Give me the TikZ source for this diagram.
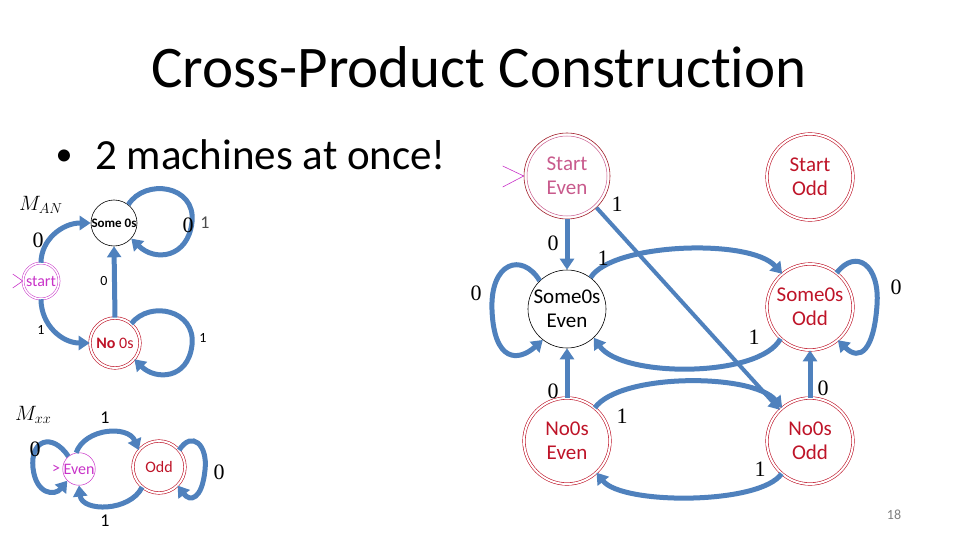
\documentclass[tikz,border=0pt]{standalone}
\usepackage{fontspec}
\setmainfont{Carlito}[Ligatures=NoCommon]
\newfontfamily\serifnum{Liberation Serif}
\usetikzlibrary{arrows.meta}
\definecolor{arrowblue}{RGB}{79,129,189}
\definecolor{statered}{RGB}{190,20,40}
\definecolor{darkred}{RGB}{160,28,40}
\definecolor{startpink}{RGB}{200,90,140}
\definecolor{startmag}{RGB}{200,50,200}
\definecolor{pagegray}{RGB}{128,128,128}
\begin{document}
\begin{tikzpicture}[x=1pt,y=-1pt,
  edge/.style={draw=arrowblue,line width=5pt,-{Triangle[length=11pt,width=14pt]}},
  thinedge/.style={draw=arrowblue,line width=4pt,-{Triangle[length=11pt,width=13pt]}},
  dstate/.style={circle,draw=statered,double=white,double distance=2pt,line width=0.6pt,inner sep=0pt,text=statered,align=center},
  sstate/.style={circle,draw=black,line width=0.6pt,inner sep=0pt,align=center},
  rtext/.style={font=\fontsize{21}{24}\selectfont},
  ltext/.style={font=\fontsize{16}{18}\selectfont},
  lblR/.style={font=\serifnum\fontsize{22}{22}\selectfont,inner sep=0pt},
  lblS/.style={font=\fontsize{14}{14}\selectfont,inner sep=0pt},
  lblM/.style={font=\fontsize{18}{18}\selectfont,inner sep=0pt},
  initline/.style={draw=startmag,line width=0.6pt}]
\useasboundingbox (0,0) rectangle (960,540);

% title and bullet
\node[font=\fontsize{59}{59}\selectfont,anchor=base] (title) at (479,88) {Cross-Product Construct\kern0pt ion};
\node[font=\fontsize{34}{34}\selectfont,inner sep=0pt] (bul) at (64,158) {\textbullet};
\node[font=\fontsize{43}{43}\selectfont,anchor=base west,inner sep=0pt] (bultext) at (95,170) {2 machines at once!};

% ---------- left machine M_AN ----------
\node[font=\fontsize{22}{22}\selectfont,anchor=base west,inner sep=0pt] (man) at (19,210) {$M_{AN}$};
\node[sstate,minimum size=46pt,font=\bfseries\fontsize{13}{15}\selectfont] (someL) at (114,223) {Some 0s};
\node[circle,draw=startmag,double=white,double distance=1.6pt,line width=0.5pt,minimum size=36pt,inner sep=0pt,text=startmag,ltext] (startL) at (41,281) {start};
\node[dstate,minimum size=50pt,ltext] (noL) at (115,343) {\textbf{No} 0s};
\draw[initline] (startL.west) -- ++(-10,-7);
\draw[initline] (startL.west) -- ++(-10,7);

\draw[edge] (startL.north) .. controls (41,240) and (62,223) .. (someL.west);
\draw[edge] (startL.south) .. controls (41,325) and (62,343) .. (noL.west);
\draw[edge] (noL.north) -- (someL.south);
\draw[edge] (someL.52) .. controls (145,178) and (196,185) .. (192,222)
             .. controls (188,258) and (155,262) .. (someL.-42);
\draw[edge] (noL.50) .. controls (150,300) and (196,310) .. (192,345)
             .. controls (188,380) and (155,380) .. (noL.-40);

\node[lblR] (lz1) at (38,240) {0};
\node[lblS] (lo1) at (41,330) {1};
\node[lblS] (lz2) at (104,281) {0};
\node[lblR] (lz3) at (188,225) {0};
\node[lblM,text=black!70] (lo3) at (205,223) {1};
\node[lblS] (lo2) at (203,338) {1};

% ---------- left machine M_xx ----------
\node[font=\fontsize{22}{22}\selectfont,anchor=base west,inner sep=0pt] (mxx) at (15,420) {$M_{xx}$};
\node[circle,draw=startmag,line width=0.5pt,minimum size=32pt,inner sep=0pt,text=startmag,ltext] (even) at (79,469) {Even};
\node[text=startmag,ltext,inner sep=0pt] (evmark) at (56,469) {>};
\node[dstate,minimum size=52pt,ltext] (odd) at (159,467) {Odd};

\draw[edge] (even.100) .. controls (85,428) and (128,425) .. (odd.140);
\draw[edge] (odd.-130) .. controls (130,512) and (82,512) .. (even.-90);
\draw[edge] (even.130) .. controls (52,432) and (30,440) .. (33,468)
             .. controls (36,495) and (55,496) .. (even.-135);
\draw[edge] (odd.40) .. controls (192,430) and (208,445) .. (205,470)
             .. controls (202,500) and (190,502) .. (odd.-45);

\node[lblM] (eo1) at (105,418) {1};
\node[lblM] (eo2) at (105,521) {1};
\node[lblR] (ee0) at (35,449) {0};
\node[lblR] (oo0) at (219,472) {0};

% ---------- product machine ----------
\node[circle,draw=darkred,line width=0.6pt,minimum size=86pt,inner sep=0pt,text=startpink,align=center,rtext] (SE) at (567,176) {Start\\Even};
\draw[startpink,line width=0.5pt] (SE.center) circle (40pt);
\node[dstate,minimum size=86pt,rtext] (SO) at (810,177) {Start\\Odd};
\node[sstate,minimum size=78pt,rtext] (SSE) at (567,309) {Some0s\\Even};
\node[dstate,minimum size=86pt,rtext] (SSO) at (810,307) {Some0s\\Odd};
\node[dstate,minimum size=86pt,rtext] (NE) at (567,441) {No0s\\Even};
\node[dstate,minimum size=86pt,rtext] (NO) at (810,441) {No0s\\Odd};
\draw[initline] (SE.west) -- ++(-21,-10);
\draw[initline] (SE.west) -- ++(-21,11);

\draw[edge] (SE.south) -- (SSE.north);
\draw[thinedge] (SE.-47) -- (NO.134);
\draw[edge] (SSE.134) .. controls (522,252) and (490,262) .. (492,310)
             .. controls (494,362) and (518,362) .. (SSE.-128);
\draw[edge] (SSE.53) .. controls (612,243) and (750,238) .. (SSO.130);
\draw[edge] (SSO.-133) .. controls (760,378) and (622,378) .. (SSE.-47);
\draw[edge] (NE.50) .. controls (620,373) and (752,373) .. (NO.130);
\draw[edge] (NO.-131) .. controls (760,505) and (622,505) .. (NE.-47);
\draw[edge] (SSO.52) .. controls (856,248) and (880,265) .. (877,305)
             .. controls (874,350) and (860,362) .. (SSO.-50);
\draw[edge] (NE.north) -- (SSE.south);
\draw[edge] (NO.north) -- (SSO.south);

\node[lblR] (r1) at (617,204) {1};
\node[lblR] (r2) at (553,243) {0};
\node[lblR] (r3) at (603,258) {1};
\node[lblR] (r4) at (476,293) {0};
\node[lblR] (r5) at (896,287) {0};
\node[lblR] (r6) at (754,337) {1};
\node[lblR] (r7) at (553,391) {0};
\node[lblR] (r8) at (622,416) {1};
\node[lblR] (r9) at (823,388) {0};
\node[lblR] (r10) at (760,469) {1};

\node[font=\fontsize{14}{14}\selectfont,text=pagegray] (pg) at (894,515) {18};
\end{tikzpicture}
\end{document}
